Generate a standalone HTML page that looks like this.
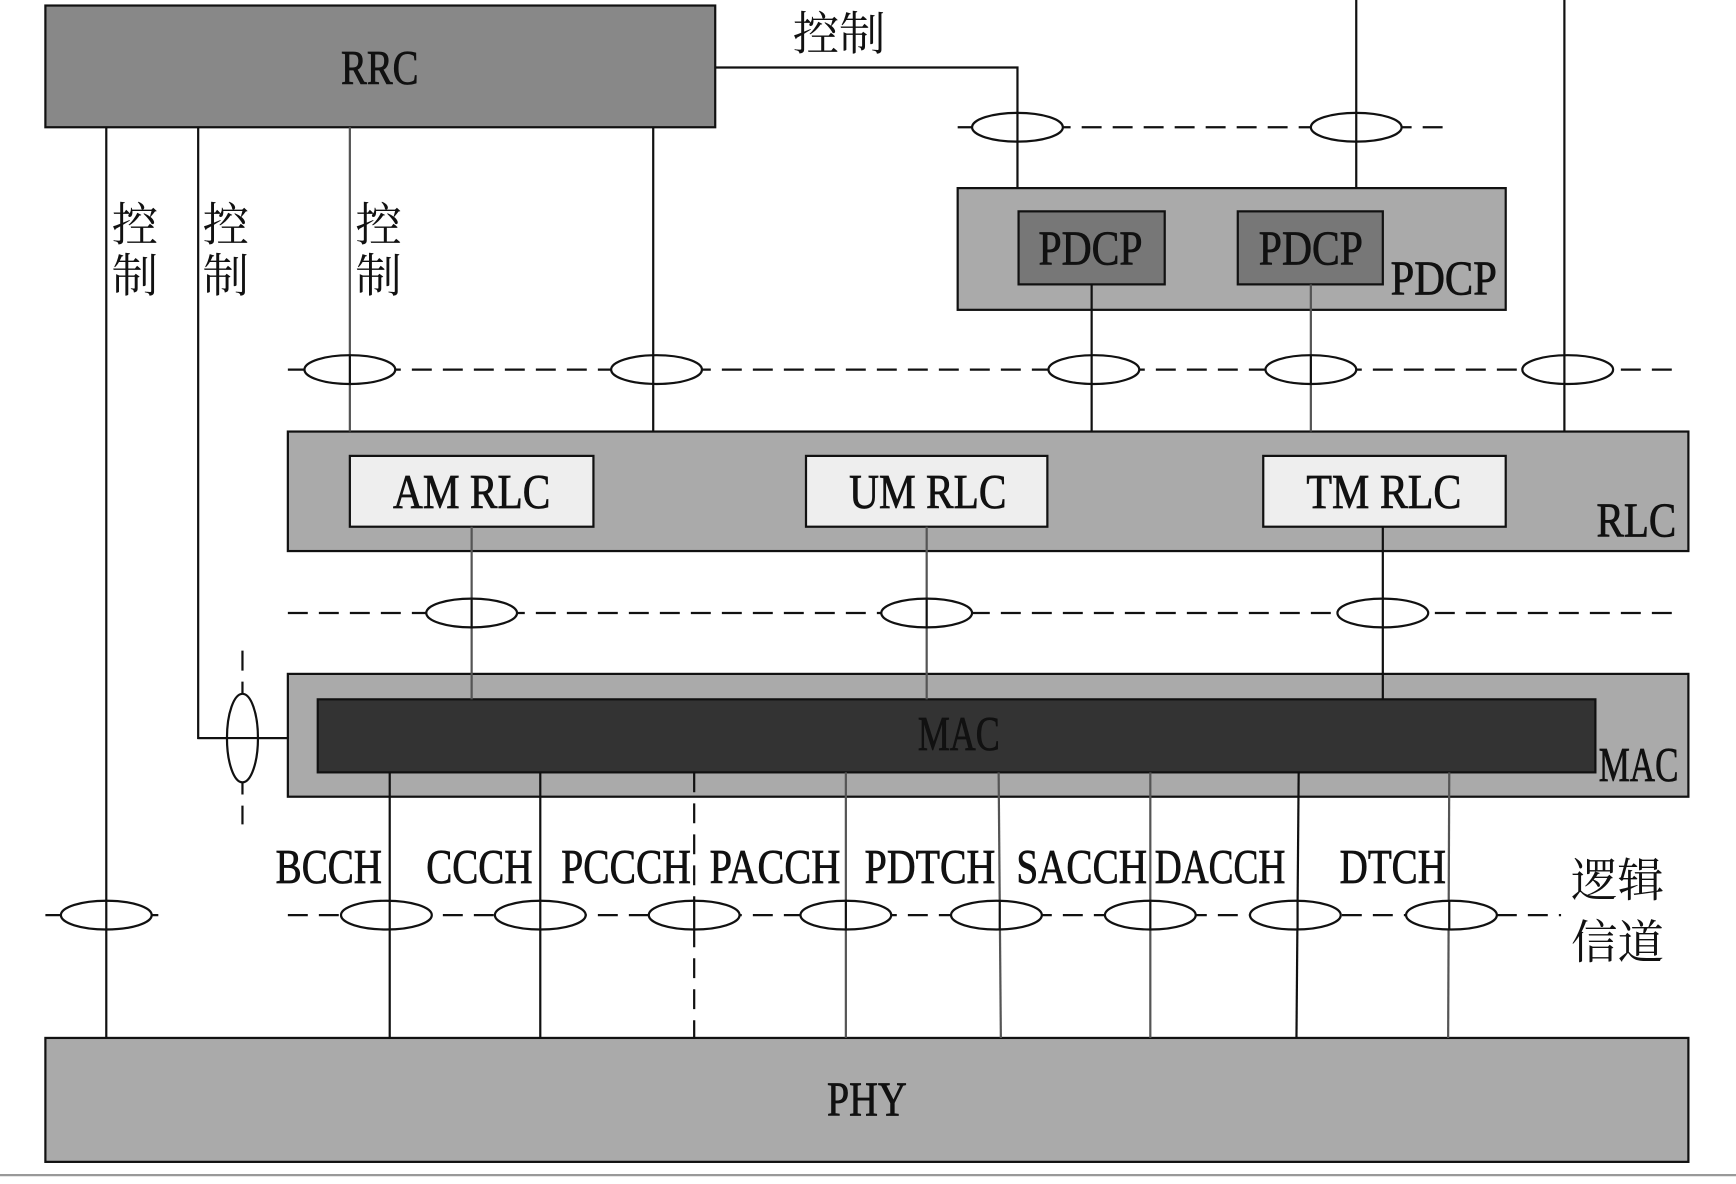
<!DOCTYPE html>
<html><head><meta charset="utf-8"><style>
html,body{margin:0;padding:0;background:#fff;}
svg{display:block;}
text{font-family:"Liberation Serif","Noto Serif CJK SC",serif;fill:#111;}
.lt text{stroke:#111;stroke-width:0.7;}
.cj{font-family:"Liberation Serif","Noto Sans CJK SC",sans-serif;fill:#222;}
</style></head><body>
<svg width="1736" height="1184" viewBox="0 0 1568 1070" preserveAspectRatio="none" xmlns="http://www.w3.org/2000/svg">
<g stroke="#111" stroke-width="2">
<rect x="41" y="5" width="605" height="110" fill="#888"/>
<rect x="865" y="170" width="495" height="110" fill="#aaa"/>
<rect x="920" y="191" width="132" height="66" fill="#777"/>
<rect x="1118" y="191" width="131" height="66" fill="#777"/>
<rect x="260" y="390" width="1265" height="108" fill="#aaa"/>
<rect x="316" y="412" width="220" height="64" fill="#eee"/>
<rect x="728" y="412" width="218" height="64" fill="#eee"/>
<rect x="1141" y="412" width="219" height="64" fill="#eee"/>
<rect x="260" y="609" width="1265" height="111" fill="#aaa"/>
<rect x="287" y="632" width="1154" height="66" fill="#333"/>
<rect x="41" y="938" width="1484" height="112" fill="#aaa"/>
</g>
<g stroke="#111" stroke-width="2" fill="none">
<polyline points="646,61 919,61 919,170"/>
<line x1="1225" y1="0" x2="1225" y2="170"/>
<line x1="1413" y1="0" x2="1413" y2="390"/>
<line x1="986" y1="257" x2="986" y2="390"/>
<line x1="1184" y1="257" x2="1184" y2="390" stroke="#555"/>
<line x1="96" y1="115" x2="96" y2="938"/>
<polyline points="179,115 179,667 260,667"/>
<line x1="316" y1="115" x2="316" y2="390" stroke="#555"/>
<line x1="590" y1="115" x2="590" y2="390"/>
<line x1="426" y1="476" x2="426" y2="632" stroke="#555"/>
<line x1="837" y1="476" x2="837" y2="632" stroke="#555"/>
<line x1="1249" y1="476" x2="1249" y2="632"/>
<line x1="352" y1="698" x2="352" y2="938"/>
<line x1="488" y1="698" x2="488" y2="938"/>
<line x1="764" y1="698" x2="764" y2="938" stroke="#555"/>
<line x1="902" y1="698" x2="904" y2="938" stroke="#555"/>
<line x1="1039" y1="698" x2="1039" y2="938" stroke="#555"/>
<line x1="1173" y1="698" x2="1171" y2="938"/>
<line x1="1309" y1="698" x2="1308" y2="938" stroke="#555"/>
<g stroke-dasharray="18,10">
<line x1="627" y1="698" x2="627" y2="938"/>
<line x1="219" y1="588" x2="219" y2="745"/>
<line x1="865" y1="115" x2="1305" y2="115"/>
<line x1="260" y1="334" x2="1520" y2="334"/>
<line x1="260" y1="554" x2="1520" y2="554"/>
<line x1="41" y1="827" x2="152" y2="827"/>
<line x1="260" y1="827" x2="1410" y2="827"/>
</g>
</g>
<g stroke="#111" stroke-width="2" fill="#fff">
<ellipse cx="919" cy="115" rx="41" ry="13"/>
<ellipse cx="1225" cy="115" rx="41" ry="13"/>
<ellipse cx="316" cy="334" rx="41" ry="13"/>
<ellipse cx="593" cy="334" rx="41" ry="13"/>
<ellipse cx="988" cy="334" rx="41" ry="13"/>
<ellipse cx="1184" cy="334" rx="41" ry="13"/>
<ellipse cx="1416" cy="334" rx="41" ry="13"/>
<ellipse cx="426" cy="554" rx="41" ry="13"/>
<ellipse cx="837" cy="554" rx="41" ry="13"/>
<ellipse cx="1249" cy="554" rx="41" ry="13"/>
<ellipse cx="219" cy="667" rx="14" ry="40"/>
<ellipse cx="96" cy="827" rx="41" ry="13"/>
<ellipse cx="349" cy="827" rx="41" ry="13"/>
<ellipse cx="488" cy="827" rx="41" ry="13"/>
<ellipse cx="627" cy="827" rx="41" ry="13"/>
<ellipse cx="764" cy="827" rx="41" ry="13"/>
<ellipse cx="900" cy="827" rx="41" ry="13"/>
<ellipse cx="1039" cy="827" rx="41" ry="13"/>
<ellipse cx="1170" cy="827" rx="41" ry="13"/>
<ellipse cx="1311" cy="827" rx="41" ry="13"/>
</g>
<g stroke="#111" stroke-width="2" fill="none">
<line x1="919" y1="102" x2="919" y2="128"/><line x1="1225" y1="102" x2="1225" y2="128"/>
<line x1="316" y1="321" x2="316" y2="347"/><line x1="590" y1="321" x2="590" y2="347"/>
<line x1="986" y1="321" x2="986" y2="347"/><line x1="1184" y1="321" x2="1184" y2="347"/>
<line x1="1413" y1="321" x2="1413" y2="347"/>
<line x1="426" y1="541" x2="426" y2="567"/><line x1="837" y1="541" x2="837" y2="567"/>
<line x1="1249" y1="541" x2="1249" y2="567"/>
<line x1="179" y1="667" x2="260" y2="667"/>
<line x1="96" y1="814" x2="96" y2="840"/>
<line x1="352" y1="814" x2="352" y2="840"/><line x1="488" y1="814" x2="488" y2="840"/>
<line x1="627" y1="814" x2="627" y2="840"/><line x1="764" y1="814" x2="764" y2="840"/>
<line x1="903" y1="814" x2="903" y2="840"/><line x1="1039" y1="814" x2="1039" y2="840"/>
<line x1="1172" y1="814" x2="1172" y2="840"/><line x1="1309" y1="814" x2="1309" y2="840"/>
</g>
<line x1="0" y1="1062" x2="1568" y2="1062" stroke="#999" stroke-width="2"/>
<g font-size="44" class="lt">
<text x="308" y="76" textLength="70" lengthAdjust="spacingAndGlyphs">RRC</text>
<text x="938" y="239" textLength="94" lengthAdjust="spacingAndGlyphs">PDCP</text>
<text x="1137" y="239" textLength="94" lengthAdjust="spacingAndGlyphs">PDCP</text>
<text x="1256" y="266" textLength="96" lengthAdjust="spacingAndGlyphs">PDCP</text>
<text x="355" y="459" textLength="142" lengthAdjust="spacingAndGlyphs">AM RLC</text>
<text x="767" y="459" textLength="142" lengthAdjust="spacingAndGlyphs">UM RLC</text>
<text x="1180" y="459" textLength="140" lengthAdjust="spacingAndGlyphs">TM RLC</text>
<text x="1442" y="485" textLength="72" lengthAdjust="spacingAndGlyphs">RLC</text>
<text x="829" y="678" textLength="74" lengthAdjust="spacingAndGlyphs">MAC</text>
<text x="1444" y="706" textLength="72" lengthAdjust="spacingAndGlyphs">MAC</text>
<text x="249" y="798" textLength="96" lengthAdjust="spacingAndGlyphs">BCCH</text>
<text x="385" y="798" textLength="96" lengthAdjust="spacingAndGlyphs">CCCH</text>
<text x="507" y="798" textLength="117" lengthAdjust="spacingAndGlyphs">PCCCH</text>
<text x="641" y="798" textLength="118" lengthAdjust="spacingAndGlyphs">PACCH</text>
<text x="781" y="798" textLength="118" lengthAdjust="spacingAndGlyphs">PDTCH</text>
<text x="918" y="798" textLength="118" lengthAdjust="spacingAndGlyphs">SACCH</text>
<text x="1043" y="798" textLength="118" lengthAdjust="spacingAndGlyphs">DACCH</text>
<text x="1210" y="798" textLength="96" lengthAdjust="spacingAndGlyphs">DTCH</text>
<text x="747" y="1008" textLength="72" lengthAdjust="spacingAndGlyphs">PHY</text>
</g>
<g class="cj" font-size="42">
<text x="716" y="45">控制</text>
<text x="101" y="218">控</text><text x="101" y="264">制</text>
<text x="183" y="218">控</text><text x="183" y="264">制</text>
<text x="321" y="218">控</text><text x="321" y="264">制</text>
<text x="1419" y="810">逻辑</text>
<text x="1419" y="866">信道</text>
</g>
</svg>
</body></html>
